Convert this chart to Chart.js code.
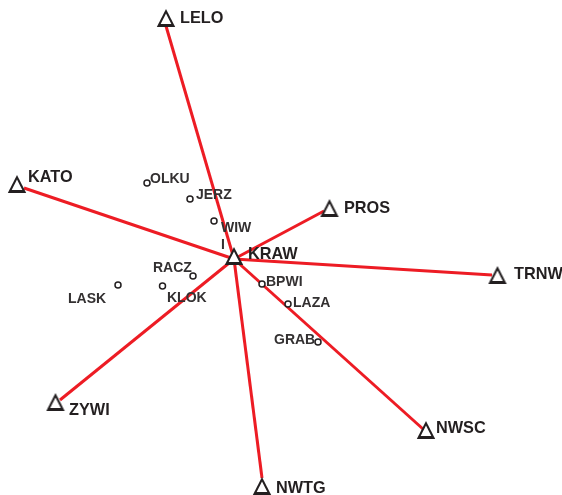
<!DOCTYPE html>
<html><head><meta charset="utf-8">
<style>html,body{margin:0;padding:0;background:#fff;overflow:hidden}canvas{display:block}</style>
<script src="https://cdn.jsdelivr.net/npm/chart.js@4"></script>
</head><body><canvas id="c" width="562" height="495"></canvas>
<script>
// Main stations (triangles)
const mainNames = ["LELO","KATO","PROS","TRNW","NWSC","ZYWI","NWTG","KRAW"];
const mainX = [166,17,329.5,497.5,426,55.5,262,234];
const mainY = [18,184,208,275,430,402,486,256];
// Red links: all run from the hub KRAW to the edge of each outer station triangle
const hub = [234,259];
const linkEndX = [166,24,324,492,423,60,262];
const linkEndY = [26,188,211,275,429,400,478];
// Minor stations (circles)
const minorNames = ["OLKU","JERZ","WIWI","RACZ","KLOK","LASK","BPWI","LAZA","GRAB"];
const minorX = [147,190,214,193,162.5,118,262,288,318];
const minorY = [183,199,221,276,286,285,284,304,342];
// Text anchors, one per label (left edge, vertical middle)
const labelText = ["LELO","KATO","PROS","TRNW","NWSC","ZYWI","NWTG","KRAW","OLKU","JERZ","WIW","I","RACZ","KLOK","LASK","BPWI","LAZA","GRAB"];
const labelX = [180,28,344,514,436,69,276,248,150,196,221,221,153,167,68,266,293,274];
const labelY = [19,178,209,275,429,411,489,255,179,195,228,245,268,298,299,282,303,340];
const labelBig = [1,1,1,1,1,1,1,1,0,0,0,0,0,0,0,0,0,0];

const INK = "#231F20", RED = "#ED1C24";

function triangleIcon(){
  const cv = document.createElement("canvas"); cv.width = 20; cv.height = 20;
  const g = cv.getContext("2d");
  g.fillStyle = INK;
  g.beginPath(); g.moveTo(10,1); g.lineTo(19.2,19); g.lineTo(0.8,19); g.closePath(); g.fill();
  g.fillStyle = "#fff";
  g.beginPath(); g.moveTo(10,5.6); g.lineTo(15.3,16); g.lineTo(4.7,16); g.closePath(); g.fill();
  return cv;
}

const datasets = [];
datasets.push({data: mainX.map((x,i)=>({x,y:mainY[i]})), pointStyle: triangleIcon(), pointRadius: 10, showLine:false, order:0});
datasets.push({data: minorX.map((x,i)=>({x,y:minorY[i]})), pointStyle:"circle", pointRadius:3, pointBorderWidth:1.5,
  pointBackgroundColor:"#fff", pointBorderColor:INK, showLine:false, order:1});
linkEndX.forEach((x,i)=>{
  datasets.push({data:[{x:hub[0],y:hub[1]},{x,y:linkEndY[i]}], showLine:true, borderColor:RED, borderWidth:3,
    pointRadius:0, borderCapStyle:"butt", order:2});
});

const labelPlugin = {
  id:"labels",
  afterDatasetsDraw(chart){
    const g = chart.ctx, sx = chart.scales.x, sy = chart.scales.y;
    g.save();
    g.textAlign="left"; g.textBaseline="middle";
    labelText.forEach((t,i)=>{
      g.font = (labelBig[i] ? "bold 16.3px" : "bold 14px") + ' "Liberation Sans", Arial, sans-serif';
      g.fillStyle = labelBig[i] ? INK : "#333031";
      g.fillText(t, sx.getPixelForValue(labelX[i]), sy.getPixelForValue(labelY[i]));
    });
    g.restore();
  }
};

new Chart(document.getElementById("c"),{
  type:"scatter",
  data:{datasets},
  plugins:[labelPlugin],
  options:{
    responsive:false, maintainAspectRatio:false, animation:false, devicePixelRatio:1,
    layout:{padding:0, autoPadding:false},
    plugins:{legend:{display:false},tooltip:{enabled:false},title:{display:false}},
    clip:false,
    scales:{
      x:{type:"linear",min:0,max:562,display:false},
      y:{type:"linear",min:0,max:495,reverse:true,display:false}
    }
  }
});
</script>
</body></html>
